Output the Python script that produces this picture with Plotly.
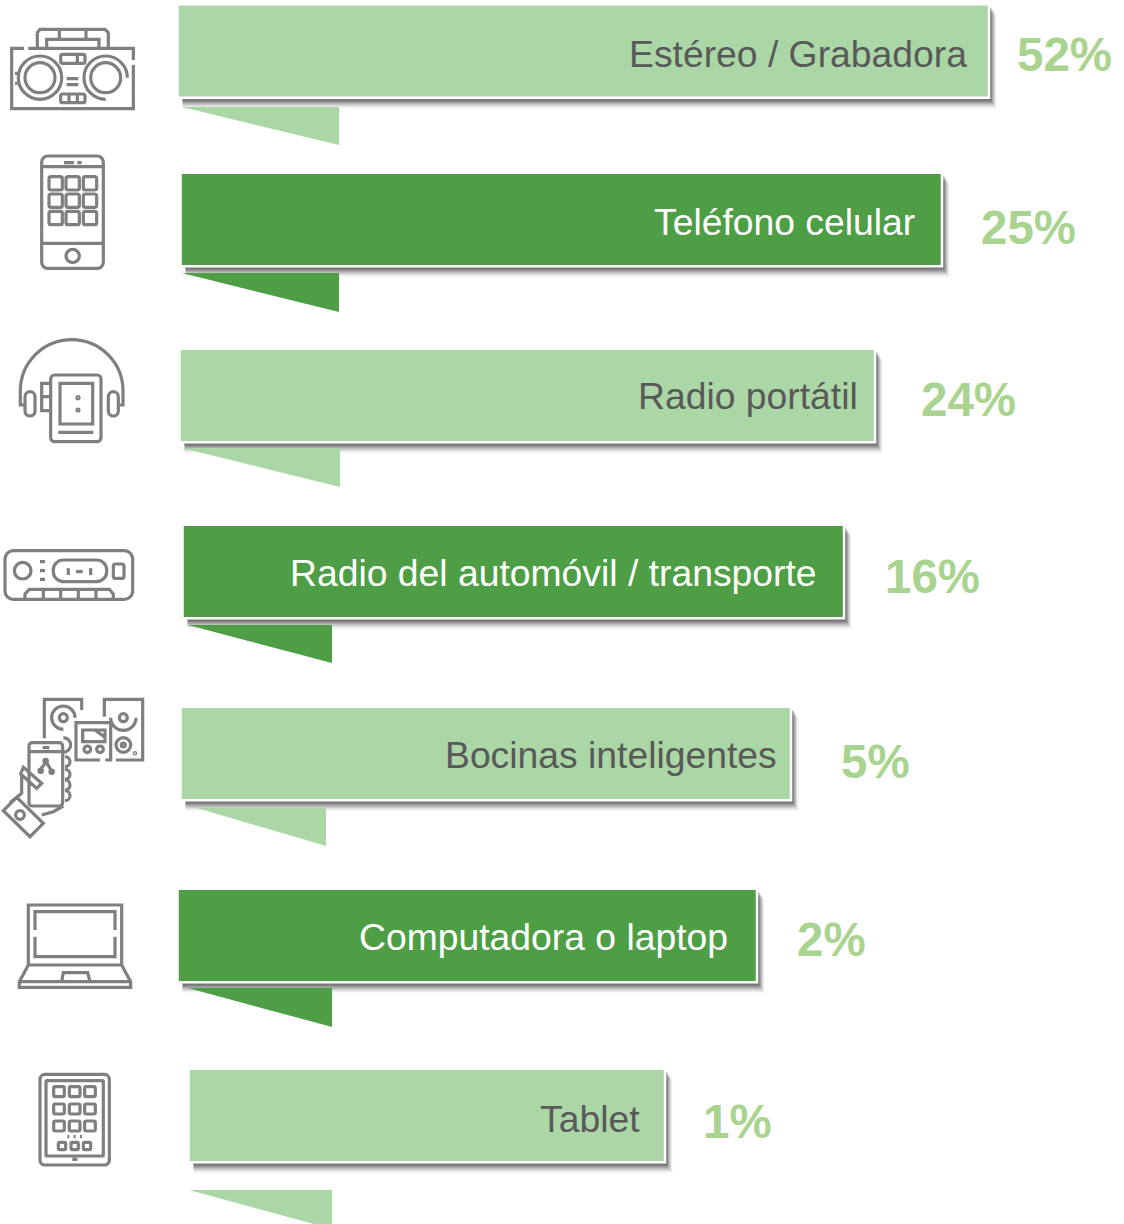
import plotly.graph_objects as go

# ---------- data ----------
categories = ["Estéreo / Grabadora", "Teléfono celular", "Radio portátil",
              "Radio del automóvil / transporte", "Bocinas inteligentes",
              "Computadora o laptop", "Tablet"]
percent_labels = ["52%", "25%", "24%", "16%", "5%", "2%", "1%"]
bar_start = [177.5, 180.5, 179.5, 182.5, 180.5, 177.5, 188.5]
bar_end = [989, 942, 875, 844, 791, 757, 665]
bar_center = [51, 219.5, 395.5, 571.5, 753.5, 935.5, 1115.5]
bar_colors = ["#ABD7A6", "#4E9E45", "#ABD7A6", "#4E9E45", "#ABD7A6", "#4E9E45", "#ABD7A6"]
text_colors = ["#595959", "#FFFFFF", "#595959", "#FFFFFF", "#595959", "#FFFFFF", "#595959"]
label_right = [969, 917, 860, 819, 779, 730, 642]
label_y = [54, 222, 396, 573, 755, 937, 1119]
pct_left = [1017, 981, 921, 885, 841, 797, 703]
pct_y = [59, 232, 404, 581, 766, 944, 1126]
tail_left = [182, 182, 182, 188, 197, 188, 189]
tail_right = [339, 339, 340, 332, 326, 332, 332]
tail_top = [107, 273, 448, 625, 808, 988, 1190]
tail_bottom = [145, 312, 487, 663, 846, 1027, 1229]

PCT_COLOR = "#A9D48F"
ICON_COLOR = "#7F7F7F"
FONT = "Liberation Sans, Arial, sans-serif"
BAR_H = 93.5


K = 0.5523


class Icon:
    def __init__(self, dy=0):
        self.dy, self.d = dy, []

    def p(self, x, y):
        return f"{x / 3:.2f},{(y / 3 + self.dy):.2f}"

    def poly(self, *pts, close=False):
        self.d.append("M" + " L".join(self.p(*q) for q in pts) + (" Z" if close else ""))
        return self

    def arc(self, cx, cy, r, a0=0, a1=4):
        """Quarter-based arc; a in quarter turns, 0=east, clockwise on screen."""
        dirs = [(1, 0), (0, 1), (-1, 0), (0, -1)]
        out = None
        for i in range(a0, a1):
            u, v = dirs[i % 4], dirs[(i + 1) % 4]
            s = (cx + r * u[0], cy + r * u[1])
            c1 = (s[0] + K * r * v[0], s[1] + K * r * v[1])
            e = (cx + r * v[0], cy + r * v[1])
            c2 = (e[0] + K * r * u[0], e[1] + K * r * u[1])
            if out is None:
                out = "M" + self.p(*s)
            out += " C" + self.p(*c1) + " " + self.p(*c2) + " " + self.p(*e)
        self.d.append(out)
        return self

    def rrect(self, x0, y0, x1, y1, r=0):
        if r == 0:
            return self.poly((x0, y0), (x1, y0), (x1, y1), (x0, y1), close=True)
        q = (1 - K) * r
        p = self.p
        self.d.append(
            "M" + p(x0 + r, y0) + " L" + p(x1 - r, y0) +
            " C" + p(x1 - q, y0) + " " + p(x1, y0 + q) + " " + p(x1, y0 + r) +
            " L" + p(x1, y1 - r) +
            " C" + p(x1, y1 - q) + " " + p(x1 - q, y1) + " " + p(x1 - r, y1) +
            " L" + p(x0 + r, y1) +
            " C" + p(x0 + q, y1) + " " + p(x0, y1 - q) + " " + p(x0, y1 - r) +
            " L" + p(x0, y0 + r) +
            " C" + p(x0, y0 + q) + " " + p(x0 + q, y0) + " " + p(x0 + r, y0) + " Z")
        return self

    def path(self):
        return " ".join(self.d)


boombox = Icon(0)
boombox.poly((72, 145), (35, 145), (35, 326), (400, 326), (400, 195))
boombox.poly((400, 180), (400, 145), (85, 145))
boombox.poly((112, 142), (112, 98), (120, 88), (315, 88), (325, 98), (325, 142))
boombox.poly((140, 142), (140, 118), (297, 118), (297, 142))
boombox.poly((178, 88), (178, 118)).poly((258, 88), (258, 118))
boombox.arc(120, 233, 65).arc(120, 233, 45)
boombox.arc(317, 233, 45).arc(317, 233, 65, 1, 4)
boombox.rrect(182, 163, 255, 190, 6).poly((232, 163), (232, 190))
boombox.poly((200, 236), (235, 236)).poly((200, 254), (235, 254))
boombox.rrect(182, 282, 255, 308, 6).poly((207, 282), (207, 308)).poly((232, 282), (232, 308))
boombox.poly((45, 220), (52, 220)).poly((45, 250), (52, 250))

phone = Icon(0)
phone.rrect(125, 468, 310, 805, 18)
phone.poly((125, 500), (310, 500)).poly((125, 730), (310, 730))
phone.poly((192, 488), (222, 488)).poly((232, 488), (245, 488))
for yy in (550, 602, 654):
    for xx in (167, 218, 270):
        phone.rrect(xx - 20, yy - 20, xx + 20, yy + 20, 6)
phone.arc(218, 768, 20)

headset = Icon(320)
headset.arc(215, 213, 154, 2, 4)
headset.poly((61, 213), (61, 255), (75, 255)).poly((369, 213), (369, 255), (355, 255))
headset.rrect(75, 215, 105, 288, 15).rrect(325, 215, 355, 288, 15)
headset.rrect(152, 165, 303, 365, 12).rrect(180, 190, 278, 312)
headset.poly((175, 337), (280, 337))
headset.arc(234, 233, 3).arc(234, 270, 3)
headset.rrect(125, 190, 152, 272).poly((125, 230), (152, 230))

car = Icon(320)
car.rrect(15, 692, 398, 838, 25)
car.arc(68, 752, 25)
car.poly((120, 725), (135, 725)).poly((120, 752), (135, 752)).poly((120, 778), (135, 778))
car.rrect(160, 720, 320, 785, 30)
car.poly((205, 745), (205, 765)).poly((228, 755), (248, 755)).poly((272, 745), (272, 765))
car.rrect(340, 732, 372, 775, 6)
car.poly((75, 838), (75, 822), (88, 808), (328, 808), (340, 822), (340, 838))
for xx in (130, 182, 235, 288):
    car.poly((xx, 808), (xx, 838))

smart = Icon(680)
smart.poly((245, 90), (245, 58), (133, 58), (133, 175))
smart.arc(190, 113, 12).arc(190, 113, 35, 1, 4)
smart.poly((313, 110), (313, 58), (428, 58), (428, 240), (348, 240))
smart.arc(370, 113, 12).arc(370, 113, 38, 0, 2)
smart.arc(370, 195, 22).arc(370, 195, 6).arc(405, 220, 2)
smart.poly((300, 240), (228, 240), (228, 128), (332, 128), (332, 240), (316, 240))
smart.rrect(248, 150, 315, 185).poly((285, 150), (315, 172))
smart.arc(262, 208, 10).arc(300, 208, 10)
smart.arc(190, 195, 22, 3, 5)
smart.rrect(87, 188, 188, 378, 10).poly((87, 215), (188, 215)).poly((128, 203), (148, 203))
smart.arc(137, 243, 5).arc(122, 272, 5).arc(155, 275, 5)
smart.poly((137, 248), (122, 267)).poly((140, 248), (153, 270))
for yy in (245, 283, 315, 347):
    smart.arc(195, yy, 15, 3, 5)
smart.poly((70, 262), (125, 310), (110, 325), (62, 282), close=True)
smart.poly((65, 282), (65, 340), (30, 368))
smart.poly((125, 405), (160, 395), (190, 378))
smart.poly((10, 392), (50, 352), (130, 430), (90, 470), close=True)
smart.arc(60, 405, 13)

laptop = Icon(680)
laptop.poly((85, 855), (85, 675), (365, 675), (365, 855))
laptop.poly((345, 750), (345, 695), (105, 695), (105, 750))
laptop.poly((105, 770), (105, 830), (345, 830), (345, 770))
laptop.poly((85, 855), (365, 855), (392, 905), (392, 922), (58, 922), (58, 905), close=True)
laptop.poly((58, 905), (392, 905))
laptop.poly((185, 905), (190, 878), (263, 878), (270, 905))

tablet = Icon(1040)
tablet.rrect(120, 103, 328, 375, 15).rrect(138, 122, 310, 348, 3)
for yy in (155, 207, 258):
    for xx in (177, 224, 270):
        tablet.rrect(xx - 16, yy - 15, xx + 16, yy + 15, 5)
for xx in (205, 224, 243):
    tablet.poly((xx - 3, 290), (xx + 3, 290))
for xx in (186, 224, 261):
    tablet.rrect(xx - 11, 307, xx + 11, 329, 4)
tablet.poly((217, 358), (232, 358))

icons = [boombox, phone, headset, car, smart, laptop, tablet]

# ---------- figure ----------
fig = go.Figure()

bar_len = [e - s for s, e in zip(bar_start, bar_end)]

# soft drop shadow, layered from widest to narrowest
for off, alpha in [(11, 0.03), (10, 0.05), (9, 0.07), (8, 0.10), (7, 0.12), (6, 0.15),
                   (5, 0.18), (4, 0.22), (3, 0.25)]:
    fig.add_trace(go.Bar(
        orientation="h", y=[c + off for c in bar_center],
        x=[v - 5 + off * 0.7 for v in bar_len], base=[s + 5 for s in bar_start], width=BAR_H,
        marker=dict(color=f"rgba(70,70,70,{alpha})", line=dict(width=0)),
        hoverinfo="skip", showlegend=False))

fig.add_trace(go.Bar(
    orientation="h", y=bar_center, x=bar_len, base=bar_start, width=BAR_H,
    marker=dict(color=bar_colors, line=dict(color="#FFFFFF", width=2.5)),
    hovertext=categories, hoverinfo="text", showlegend=False))

for i in range(len(categories)):
    fig.add_trace(go.Scatter(
        x=[tail_left[i], tail_right[i], tail_right[i]],
        y=[tail_top[i], tail_top[i], tail_bottom[i]],
        mode="none", fill="toself", fillcolor=bar_colors[i],
        hoverinfo="skip", showlegend=False))

fig.add_trace(go.Scatter(
    x=pct_left, y=pct_y, mode="text", text=percent_labels, textposition="middle right",
    textfont=dict(family=FONT, size=47.5, color=PCT_COLOR, weight="bold"),
    hoverinfo="skip", showlegend=False))

annotations = [dict(x=label_right[i], y=label_y[i], text=categories[i], showarrow=False,
                    xanchor="right", yanchor="middle",
                    font=dict(family=FONT, size=37.3, color=text_colors[i]))
               for i in range(len(categories))]

shapes = [dict(type="path", path=ic.path(), xref="x", yref="y",
               line=dict(color=ICON_COLOR, width=3.2), fillcolor="rgba(0,0,0,0)")
          for ic in icons]

fig.update_layout(
    width=1124, height=1224, margin=dict(l=0, r=0, t=0, b=0),
    paper_bgcolor="#FFFFFF", plot_bgcolor="#FFFFFF", barmode="overlay",
    showlegend=False, annotations=annotations, shapes=shapes,
    xaxis=dict(range=[0, 1124], visible=False, fixedrange=True),
    yaxis=dict(range=[1224, 0], visible=False, fixedrange=True),
)

fig.write_html("out.html", config=dict(displayModeBar=False),
               post_script="document.body.style.margin='0';document.body.style.overflow='hidden';")
